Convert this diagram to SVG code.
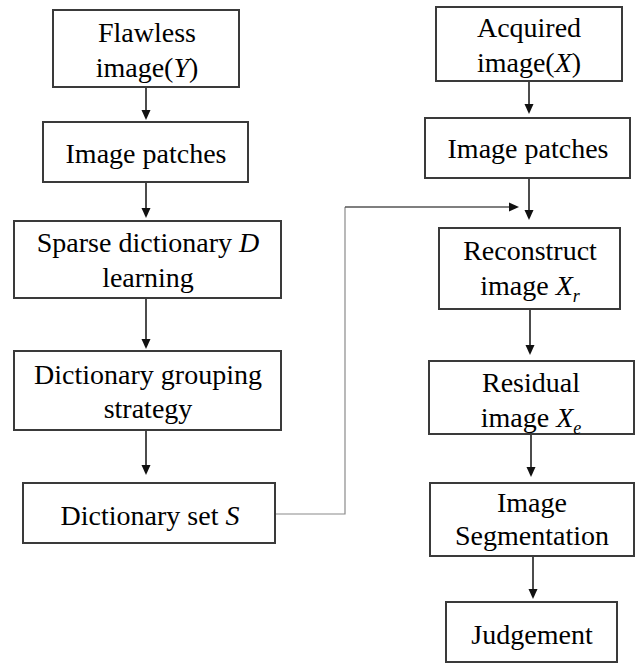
<svg xmlns="http://www.w3.org/2000/svg" width="644" height="664" viewBox="0 0 644 664">
<rect width="644" height="664" fill="#fff"/>
<g id="connectors" stroke="#111" stroke-width="1.5" fill="none">
<line x1="146" y1="87" x2="146" y2="112"/>
<line x1="146" y1="182" x2="146" y2="210"/>
<line x1="146" y1="298" x2="146" y2="341"/>
<line x1="146" y1="430" x2="146" y2="467"/>
<line x1="529" y1="81" x2="529" y2="106"/>
<line x1="529" y1="178" x2="529" y2="212"/>
<line x1="530" y1="309" x2="530" y2="347"/>
<line x1="531" y1="434" x2="531" y2="469"/>
<line x1="533" y1="556" x2="533" y2="591"/>
<polyline points="275,514 345,514 345,207" stroke="#8a8a8a" stroke-width="1.2"/>
<line x1="345" y1="207" x2="511" y2="207" stroke="#555" stroke-width="1.3"/>
<g fill="#111" stroke="none">
<path d="M141.5,110 L150.5,110 L146,120 Z"/>
<path d="M141.5,208 L150.5,208 L146,218 Z"/>
<path d="M141.5,339 L150.5,339 L146,349 Z"/>
<path d="M141.5,465 L150.5,465 L146,475 Z"/>
<path d="M524.5,104 L533.5,104 L529,114 Z"/>
<path d="M524.5,210 L533.5,210 L529,220 Z"/>
<path d="M525.5,345 L534.5,345 L530,355 Z"/>
<path d="M526.5,467 L535.5,467 L531,477 Z"/>
<path d="M528.5,589 L537.5,589 L533,599 Z"/>
<path d="M509,202.5 L519,207 L509,211.5 Z"/>
</g>
</g>
<g id="nodes" text-anchor="middle">
<g id="flawless">
<rect x="53" y="10" width="186" height="77" fill="#fff" stroke="#3a3a3a" stroke-width="2"/>
<text font-family="Liberation Serif" font-size="28" x="147" y="42">Flawless</text>
<text font-family="Liberation Serif" font-size="28" x="147" y="77">image(<tspan font-style="italic">Y</tspan>)</text>
</g>
<g id="patchesL">
<rect x="43" y="122" width="205" height="60" fill="#fff" stroke="#3a3a3a" stroke-width="2"/>
<text font-family="Liberation Serif" font-size="28" x="146" y="163">Image patches</text>
</g>
<g id="sparse">
<rect x="14" y="221" width="267" height="77" fill="#fff" stroke="#3a3a3a" stroke-width="2"/>
<text font-family="Liberation Serif" font-size="28" x="148" y="252">Sparse dictionary <tspan font-style="italic">D</tspan></text>
<text font-family="Liberation Serif" font-size="28" x="148" y="287">learning</text>
</g>
<g id="grouping">
<rect x="14" y="351" width="267" height="79" fill="#fff" stroke="#3a3a3a" stroke-width="2"/>
<text font-family="Liberation Serif" font-size="28" x="148" y="384">Dictionary grouping</text>
<text font-family="Liberation Serif" font-size="28" x="148" y="418">strategy</text>
</g>
<g id="dictset">
<rect x="23" y="483" width="252" height="60" fill="#fff" stroke="#3a3a3a" stroke-width="2"/>
<text font-family="Liberation Serif" font-size="28" x="150" y="525">Dictionary set <tspan font-style="italic">S</tspan></text>
</g>
<g id="acquired">
<rect x="436" y="7" width="186" height="74" fill="#fff" stroke="#3a3a3a" stroke-width="2"/>
<text font-family="Liberation Serif" font-size="28" x="529" y="37">Acquired</text>
<text font-family="Liberation Serif" font-size="28" x="529" y="72">image(<tspan font-style="italic">X</tspan>)</text>
</g>
<g id="patchesR">
<rect x="425" y="118" width="205" height="60" fill="#fff" stroke="#3a3a3a" stroke-width="2"/>
<text font-family="Liberation Serif" font-size="28" x="528" y="158">Image patches</text>
</g>
<g id="reconstruct">
<rect x="439" y="228" width="181" height="81" fill="#fff" stroke="#3a3a3a" stroke-width="2"/>
<text font-family="Liberation Serif" font-size="28" x="530" y="260">Reconstruct</text>
<text font-family="Liberation Serif" font-size="28" x="530" y="295">image <tspan font-style="italic">X</tspan><tspan font-style="italic" font-size="18" dy="7">r</tspan></text>
</g>
<g id="residual">
<rect x="429" y="361" width="205" height="73" fill="#fff" stroke="#3a3a3a" stroke-width="2"/>
<text font-family="Liberation Serif" font-size="28" x="531" y="392">Residual</text>
<text font-family="Liberation Serif" font-size="28" x="531" y="427">image <tspan font-style="italic">X</tspan><tspan font-style="italic" font-size="18" dy="7">e</tspan></text>
</g>
<g id="segmentation">
<rect x="430" y="483" width="204" height="73" fill="#fff" stroke="#3a3a3a" stroke-width="2"/>
<text font-family="Liberation Serif" font-size="28" x="532" y="512">Image</text>
<text font-family="Liberation Serif" font-size="28" x="532" y="545">Segmentation</text>
</g>
<g id="judgement">
<rect x="446" y="602" width="171" height="60" fill="#fff" stroke="#3a3a3a" stroke-width="2"/>
<text font-family="Liberation Serif" font-size="28" x="532" y="644">Judgement</text>
</g>
</g>
</svg>
